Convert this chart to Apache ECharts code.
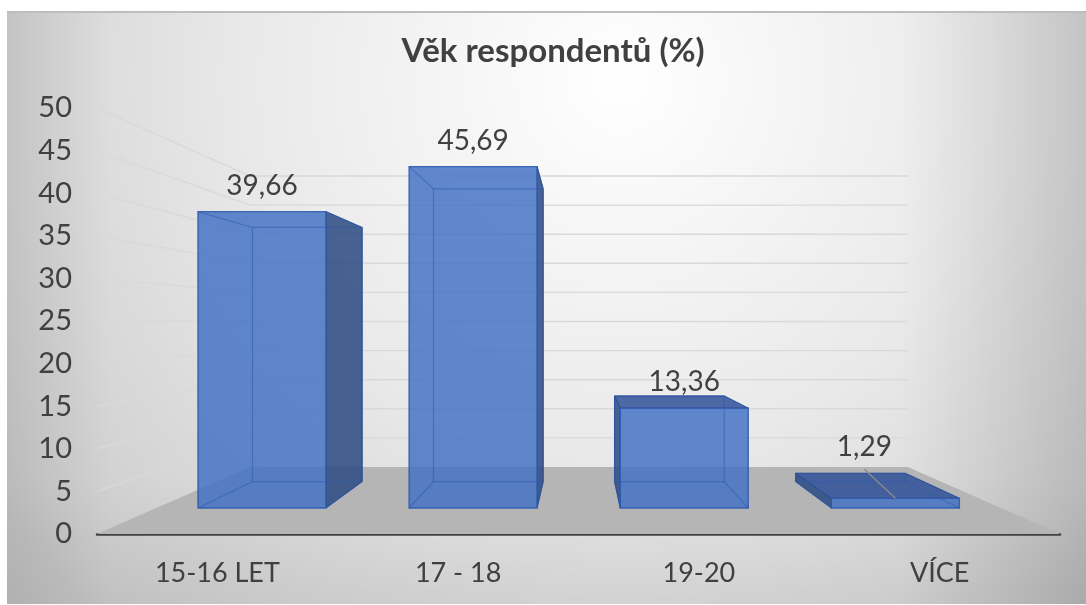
<!DOCTYPE html>
<html><head><meta charset="utf-8">
<style>html,body{margin:0;padding:0;background:#fff}#c{width:1086px;height:605px}</style>
<script src="https://cdn.jsdelivr.net/npm/echarts@6/dist/echarts.min.js"></script>
</head><body><div id="c"></div>
<script>
const categories = ['15-16 LET', '17 - 18', '19-20', 'VÍCE'];
const values = [39.66, 45.69, 13.36, 1.29];
const gridTicks = [5, 10, 15, 20, 25, 30, 35, 40, 45, 50];

// camera of the 3D look: vanishing point and depth scales
const VP = [580, 322.6];
const S_WALL = 0.683, S_FRONT = 0.877, S_BACK = 0.752;
const BAR_RATIO = 0.606;
const FONT = 'Lato, "Open Sans", sans-serif';
const INK = '#404040';

const proj = (p, s) => [VP[0] + (p[0] - VP[0]) * s, VP[1] + (p[1] - VP[1]) * s];
const poly = (points, fill, stroke, lw) => ({
  type: 'polygon', shape: { points },
  style: { fill: fill, stroke: stroke || null, lineWidth: lw || 0 }
});
const seg = (a, b, color, lw) => ({
  type: 'line', shape: { x1: a[0], y1: a[1], x2: b[0], y2: b[1] },
  style: { stroke: color, lineWidth: lw, fill: null }
});
const shade = (x, y, x2, y2, a0, a1) => ({
  type: 'linear', x: 0, y: 0, x2: x2, y2: y2,
  colorStops: [{ offset: 0, color: 'rgba(0,0,0,' + a0 + ')' }, { offset: 1, color: 'rgba(0,0,0,' + a1 + ')' }]
});

function floorItem(params, api) {
  const band = api.size([1, 0])[0];
  const l = api.coord([0, 0]); l[0] -= band / 2;
  const r = api.coord([categories.length - 1, 0]); r[0] += band / 2;
  return poly([l, r, proj(r, S_WALL), proj(l, S_WALL)], '#b5b5b5');
}
function wallItem(params, api) {
  const band = api.size([1, 0])[0];
  const v = api.value(0);
  const l = api.coord([0, v]); l[0] -= band / 2;
  const r = api.coord([categories.length - 1, v]); r[0] += band / 2;
  const bl = proj(l, S_WALL), br = proj(r, S_WALL);
  return { type: 'group', children: [seg(l, bl, '#d9d9d9', 1.4), seg(bl, br, '#d9d9d9', 1.4)] };
}
function barItem(params, api) {
  const i = api.value(0), v = api.value(1);
  const w = api.size([1, 0])[0] * BAR_RATIO;
  const b0 = api.coord([i, 0]), t0 = api.coord([i, v]);
  const L = b0[0] - w / 2, R = b0[0] + w / 2;
  const c = (x, y, s) => proj([x, y], s);
  const fbl = c(L, b0[1], S_FRONT), fbr = c(R, b0[1], S_FRONT), ftl = c(L, t0[1], S_FRONT), ftr = c(R, t0[1], S_FRONT);
  const bbl = c(L, b0[1], S_BACK), bbr = c(R, b0[1], S_BACK), btl = c(L, t0[1], S_BACK), btr = c(R, t0[1], S_BACK);
  const edge = 'rgba(47,90,175,0.55)', rim = 'rgba(47,90,175,0.9)', darkEdge = 'rgba(38,70,135,0.9)';
  const light = 'rgba(68,114,196,0.84)', side = 'rgba(43,74,128,0.86)', top = 'rgba(45,80,152,0.84)';
  const kids = [];
  // exterior faces that can be seen from this camera position
  if (fbr[0] < VP[0]) kids.push(poly([fbr, ftr, btr, bbr], side, darkEdge, 1));
  if (fbl[0] > VP[0]) kids.push(poly([fbl, ftl, btl, bbl], side, darkEdge, 1));
  if (ftl[1] > VP[1]) kids.push(poly([ftl, ftr, btr, btl], top, darkEdge, 1));
  // the front face is see-through: the back edges show inside it
  kids.push(poly([fbl, fbr, ftr, ftl], light));
  kids.push(seg(btl, btr, edge, 1.2), seg(bbl, bbr, edge, 1.2), seg(btl, bbl, edge, 1.2), seg(btr, bbr, edge, 1.2));
  kids.push(seg(ftl, btl, edge, 1.2), seg(ftr, btr, edge, 1.2), seg(fbl, bbl, edge, 1.2), seg(fbr, bbr, edge, 1.2));
  kids.push(poly([fbl, fbr, ftr, ftl], null, rim, 1.4));
  // value label, the smallest one sits on a leader line
  const cx = (fbl[0] + fbr[0]) / 2;
  const isLeader = i === values.length - 1;
  const lx = isLeader ? cx - 31 : cx, ly = ftl[1] - (isLeader ? 51 : 26);
  if (isLeader) kids.push(seg([cx - 31, ly + 22], [cx, ftl[1]], '#8a8a8a', 1.4));
  kids.push({
    type: 'text', z2: 10,
    style: { x: lx, y: ly, text: String(v).replace('.', ','), fill: INK, font: '28px ' + FONT, align: 'center', verticalAlign: 'middle' }
  });
  return { type: 'group', children: kids };
}

const chart = echarts.init(document.getElementById('c'), null, { renderer: 'canvas', width: 1086, height: 605 });
chart.setOption({
  animation: false,
  backgroundColor: '#fff',
  title: {
    text: 'Věk respondentů (%)', left: 548, top: 46, textAlign: 'center', textVerticalAlign: 'middle',
    textStyle: { fontFamily: FONT, fontWeight: 'bold', fontSize: 33, color: INK }
  },
  graphic: [{
    type: 'rect', z: -10, silent: true,
    shape: { x: 7, y: 12, width: 1079, height: 592 },
    style: {
      fill: {
        type: 'radial', global: true, x: 620, y: 80, r: 750,
        colorStops: [
          { offset: 0, color: '#ffffff' }, { offset: 0.5, color: '#e9e9e9' }, { offset: 1, color: '#c9c9c9' }
        ]
      }
    }
  }, {
    type: 'rect', z: -9, silent: true,
    shape: { x: 7, y: 12, width: 103, height: 592 },
    style: { fill: shade(0, 0, 1, 0, 0.08, 0) }
  }, {
    type: 'rect', z: -9, silent: true,
    shape: { x: 900, y: 12, width: 186, height: 592 },
    style: { fill: shade(0, 0, 1, 0, 0, 0.13) }
  }, {
    type: 'rect', z: -9, silent: true,
    shape: { x: 7, y: 480, width: 1079, height: 124 },
    style: { fill: shade(0, 0, 0, 1, 0, 0.05) }
  }, {
    type: 'rect', z: -8, silent: true,
    shape: { x: 7, y: 11, width: 1079, height: 2 },
    style: { fill: '#bdbdbd' }
  }],
  grid: { left: 97, right: 26, top: 108, bottom: 71 },
  xAxis: {
    type: 'category', data: categories,
    axisTick: { show: false },
    axisLine: { show: true, lineStyle: { color: '#404040', width: 2.5 } },
    axisLabel: { fontFamily: FONT, fontSize: 27, color: INK, margin: 26 }
  },
  yAxis: {
    type: 'value', min: 0, max: 50, interval: 5,
    axisLine: { show: false }, axisTick: { show: false }, splitLine: { show: false },
    axisLabel: { fontFamily: FONT, fontSize: 29, color: INK, margin: 25, padding: [9, 0, 0, 0] }
  },
  series: [
    { type: 'custom', z: 1, silent: true, renderItem: floorItem, data: [[0]], encode: { x: -1, y: -1 } },
    { type: 'custom', z: 2, silent: true, renderItem: wallItem, data: gridTicks.map(v => [v]), encode: { x: -1, y: -1 } },
    { type: 'custom', z: 3, silent: true, renderItem: barItem, data: values.map((v, i) => [i, v]), encode: { x: 0, y: 1 } }
  ]
});
</script></body></html>
